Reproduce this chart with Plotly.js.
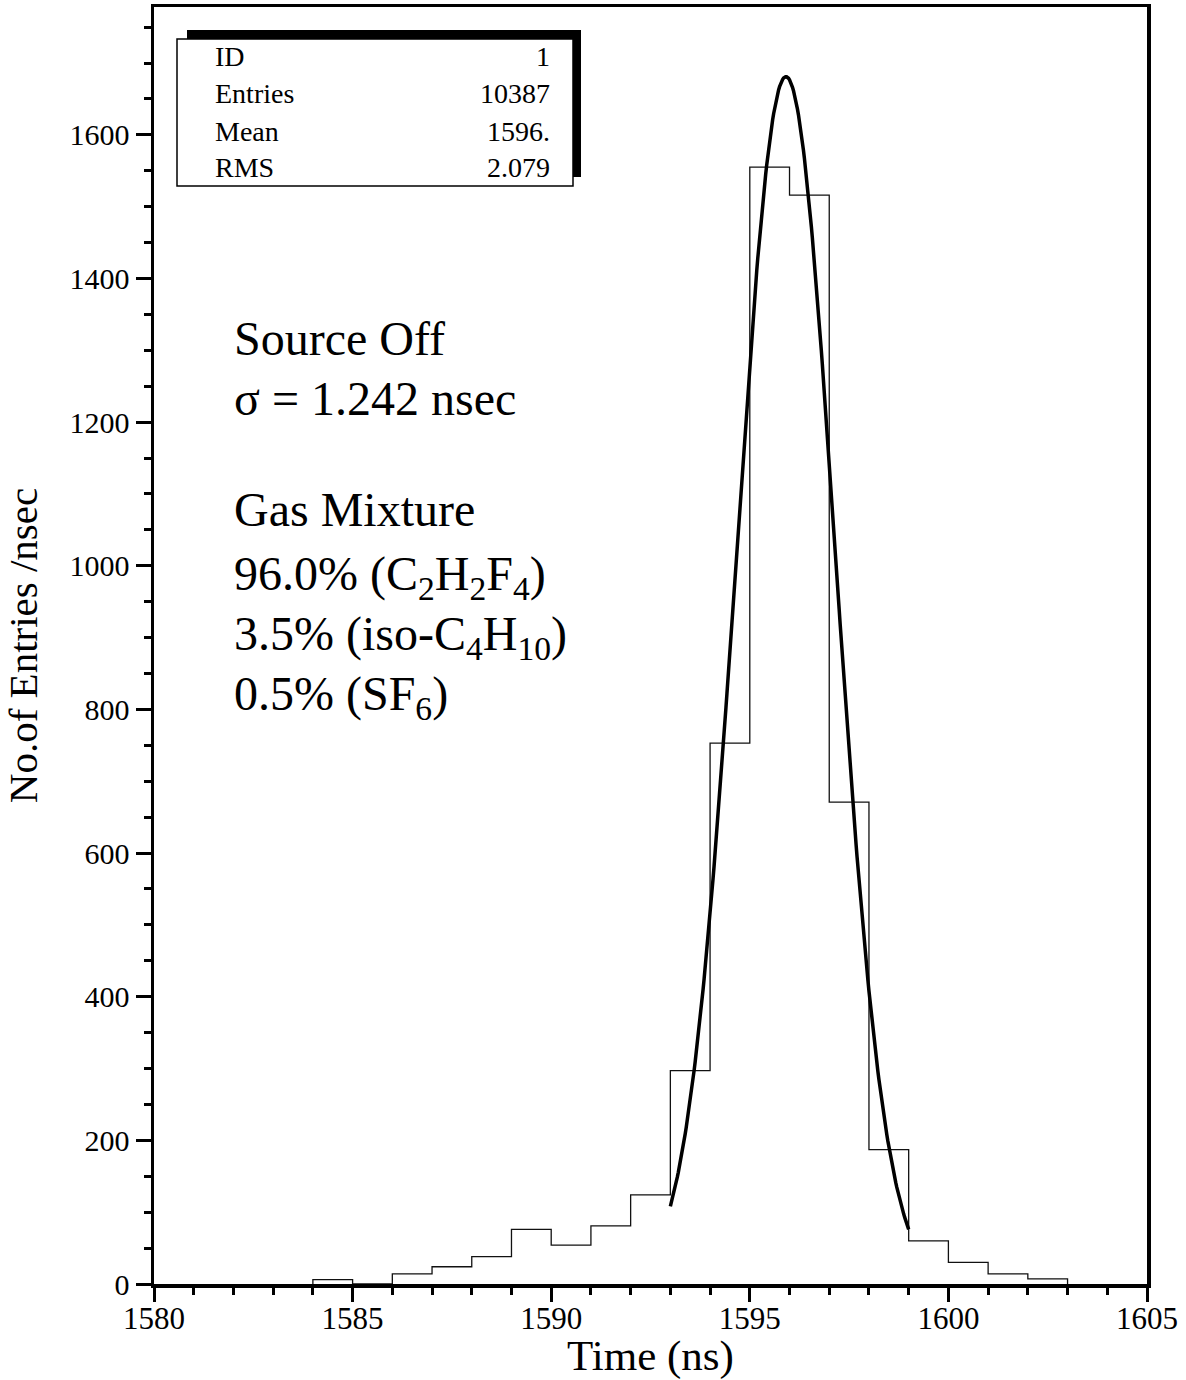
<!DOCTYPE html>
<html>
<head>
<meta charset="utf-8">
<script src="https://cdn.plot.ly/plotly-3.0.1.min.js"></script>
<style>
  html, body { margin: 0; padding: 0; background: #fff; }
  #chart { width: 1186px; height: 1380px; }
</style>
</head>
<body>
<div id="chart"></div>
<script>
// Timing histogram, 1 ns bins (lower edges) and their contents
const binEdges = [1584, 1585, 1586, 1587, 1588, 1589, 1590, 1591, 1592, 1593,
                  1594, 1595, 1596, 1597, 1598, 1599, 1600, 1601, 1602, 1603];
const binCounts = [6, 0, 14, 24, 38, 76, 54, 81, 124, 297,
                   753, 1555, 1516, 671, 187, 60, 30, 14, 7];

// Gaussian fit result and range
const fitAmplitude = 1681;
const fitMean = 1595.91;
const fitSigma = 1.242;
const fitRange = [1593, 1599];

// Statistics box
const statNames = ["ID", "Entries", "Mean", "RMS"];
const statValues = ["1", "10387", "1596.", "2.079"];

// Text block
const infoLines = [
  "Source Off",
  "\u03c3 = " + fitSigma.toFixed(3) + " nsec",
  "Gas Mixture",
  "96.0% (C<sub>2</sub>H<sub>2</sub>F<sub>4</sub>)",
  "3.5% (iso-C<sub>4</sub>H<sub>10</sub>)",
  "0.5% (SF<sub>6</sub>)"
];

// Outline of the histogram as a step line
const stepX = [binEdges[0]].concat(binEdges);
const stepY = [0].concat(binCounts, [0]);

// Fit curve sampled over its range
const fitX = [], fitY = [];
const nFit = 241;
for (let i = 0; i < nFit; i++) {
  const x = fitRange[0] + (fitRange[1] - fitRange[0]) * i / (nFit - 1);
  fitX.push(x);
  fitY.push(fitAmplitude * Math.exp(-0.5 * Math.pow((x - fitMean) / fitSigma, 2)));
}

const FONT = '"Liberation Serif", "Times New Roman", serif';

const traces = [
  {
    x: stepX, y: stepY, type: "scatter", mode: "lines",
    line: { shape: "hv", color: "#111", width: 1.3 },
    hoverinfo: "skip"
  },
  {
    x: fitX, y: fitY, type: "scatter", mode: "lines",
    line: { color: "#000", width: 3.5 },
    hoverinfo: "skip"
  }
];

// Plot-area geometry helpers (paper coordinates from pixel offsets)
const L = 154, R = 39, T = 7, B = 96, W = 1186, H = 1380;
const PW = W - L - R, PH = H - T - B;
const px = v => (v - L) / PW;
const py = v => (H - B - v) / PH;

const annotations = [];
const statRowY = [56, 93, 131, 168];
statNames.forEach((n, i) => {
  annotations.push({
    xref: "paper", yref: "paper", x: px(213), y: py(statRowY[i]),
    xanchor: "left", yanchor: "middle", showarrow: false,
    text: n, font: { family: FONT, size: 28, color: "#000" }
  });
  annotations.push({
    xref: "paper", yref: "paper", x: px(552), y: py(statRowY[i]),
    xanchor: "right", yanchor: "middle", showarrow: false,
    text: statValues[i], font: { family: FONT, size: 28, color: "#000" }
  });
});

const infoTop = [310, 370, 481, 545, 605, 665];
infoLines.forEach((t, i) => {
  annotations.push({
    xref: "paper", yref: "paper", x: px(232), y: py(infoTop[i]),
    xanchor: "left", yanchor: "top", showarrow: false,
    text: t, font: { family: FONT, size: 48, color: "#000" }
  });
});

const shapes = [
  { type: "rect", xref: "paper", yref: "paper",
    x0: px(187), x1: px(581), y0: py(177), y1: py(30),
    fillcolor: "#000", line: { width: 0 } },
  { type: "rect", xref: "paper", yref: "paper",
    x0: px(177), x1: px(573), y0: py(186), y1: py(39),
    fillcolor: "#fff", line: { color: "#000", width: 1.5 } }
];

const layout = {
  width: W, height: H,
  margin: { l: L, r: R, t: T, b: B, pad: 0 },
  paper_bgcolor: "#fff", plot_bgcolor: "#fff",
  showlegend: false,
  font: { family: FONT, color: "#000" },
  xaxis: {
    range: [1580, 1605], dtick: 5, tick0: 1580,
    showgrid: false, zeroline: false,
    showline: true, mirror: true, linecolor: "#000", linewidth: 3.5,
    ticks: "outside", ticklen: 14, tickwidth: 3, tickcolor: "#000",
    ticklabelstandoff: -10,
    minor: { dtick: 1, ticks: "outside", ticklen: 7, tickwidth: 3, tickcolor: "#000", showgrid: false },
    tickfont: { family: FONT, size: 31, color: "#000" },
    title: { text: "Time (ns)", font: { family: FONT, size: 43, color: "#000" }, standoff: 4 }
  },
  yaxis: {
    range: [0, 1778], dtick: 200, tick0: 0,
    showgrid: false, zeroline: false,
    showline: true, mirror: true, linecolor: "#000", linewidth: 3.5,
    ticks: "outside", ticklen: 15, tickwidth: 3, tickcolor: "#000",
    minor: { dtick: 50, ticks: "outside", ticklen: 7, tickwidth: 3, tickcolor: "#000", showgrid: false },
    tickfont: { family: FONT, size: 30, color: "#000" },
    title: { text: "No.of Entries /nsec", font: { family: FONT, size: 41, color: "#000" }, standoff: 22 }
  },
  shapes: shapes,
  annotations: annotations
};

Plotly.newPlot("chart", traces, layout, { staticPlot: true, displayModeBar: false });
</script>
</body>
</html>
